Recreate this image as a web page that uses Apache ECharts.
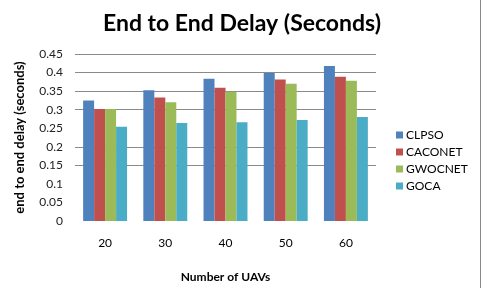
<!DOCTYPE html>
<html><head><meta charset="utf-8">
<script src="https://cdn.jsdelivr.net/npm/echarts@6/dist/echarts.min.js"></script>
<style>html,body{margin:0;padding:0;background:#fff}#c{width:488px;height:288px}</style>
</head><body><div id="c"></div>
<script>
const categories = ['20', '30', '40', '50', '60'];
const seriesNames = ['CLPSO', 'CACONET', 'GWOCNET', 'GOCA'];
const clpso   = [0.325, 0.352, 0.383, 0.399, 0.418];
const caconet = [0.302, 0.333, 0.359, 0.381, 0.389];
const gwocnet = [0.302, 0.320, 0.348, 0.370, 0.378];
const goca    = [0.254, 0.264, 0.266, 0.272, 0.280];
const colors = ['#4F81BD', '#C0504D', '#9BBB59', '#4BACC6'];
const values = [clpso, caconet, gwocnet, goca];
const font = 'Lato, "Open Sans", sans-serif';

const chart = echarts.init(document.getElementById('c'));
chart.setOption({
  animation: false,
  title: {
    text: 'End to End Delay (Seconds)', left: 237, top: 7, textAlign: 'center',
    textStyle: { fontFamily: font, fontWeight: 'bold', fontSize: 23, color: '#000' }
  },
  legend: {
    orient: 'vertical', left: 391, top: 124, itemWidth: 7, itemHeight: 7, itemGap: 5,
    icon: 'rect', data: seriesNames,
    textStyle: { fontFamily: font, fontSize: 12, color: '#000', padding: [0, 0, 0, -2] }
  },
  grid: { left: 75, right: 112, top: 54, bottom: 65 },
  xAxis: {
    type: 'category', data: categories,
    name: 'Number of UAVs', nameLocation: 'middle', nameGap: 50,
    nameTextStyle: { fontFamily: font, fontWeight: 'bold', fontSize: 12, color: '#000' },
    axisLine: { show: false }, axisTick: { show: false },
    axisLabel: { fontFamily: font, fontSize: 12, color: '#000', margin: 16 }
  },
  yAxis: {
    type: 'value', min: 0, max: 0.45, interval: 0.05,
    name: 'end to end delay (seconds)', nameLocation: 'middle', nameGap: 49, nameRotate: 90,
    nameTextStyle: { fontFamily: font, fontWeight: 'bold', fontSize: 13, color: '#000' },
    axisLine: { show: false }, axisTick: { show: false },
    axisLabel: { fontFamily: font, fontSize: 12, color: '#222', margin: 12,
      formatter: v => String(+v.toFixed(2)) },
    splitLine: { lineStyle: { width: 1,
      color: ['rgba(0,0,0,0)', 'rgba(0,0,0,0)', 'rgba(0,0,0,0)', '#8a8a8a', '#8a8a8a',
              'rgba(0,0,0,0)', '#8a8a8a', '#8a8a8a', '#8a8a8a', '#8a8a8a'] } }
  },
  graphic: [{ type: 'line', shape: { x1: 480.5, y1: 0, x2: 480.5, y2: 288 },
    style: { stroke: '#8a8a8a', lineWidth: 1 } }],
  series: seriesNames.map((n, i) => ({
    name: n, type: 'bar', data: values[i], barGap: '0%', barCategoryGap: '27%',
    itemStyle: { color: colors[i] }
  }))
});
</script></body></html>
